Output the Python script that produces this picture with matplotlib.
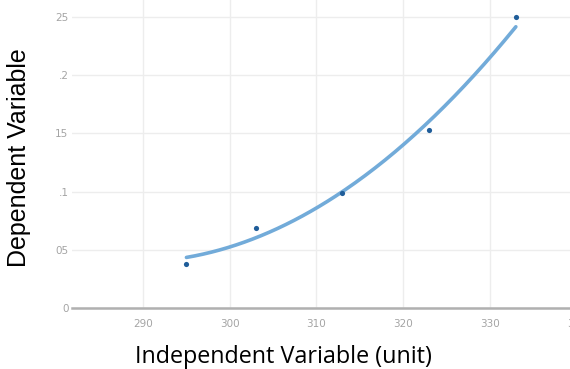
import numpy as np
import matplotlib
matplotlib.use("Agg")
import matplotlib.pyplot as plt

# Measured samples
x_vals = [295, 303, 313, 323, 333]
y_vals = [0.038, 0.069, 0.099, 0.153, 0.250]

# Trend line values at the sample positions
trend_vals = [0.0438, 0.0600, 0.0990, 0.1620, 0.2410]

x_ticks = [290, 300, 310, 320, 330, 340]
y_ticks = [0, 0.05, 0.10, 0.15, 0.20, 0.25]
y_tick_labels = ["0", "05", ".1", "15", ".2", "25"]

x_label = "Independent Variable (unit)"
y_label = "Dependent Variable"

W, H = 570, 369
fig = plt.figure(figsize=(W / 100, H / 100), dpi=100)
fig.patch.set_facecolor("white")

# axes extends slightly past the right edge of the canvas
ax = fig.add_axes([72 / W, (H - 308) / H, (580 - 72) / W, 308 / H])
ax.set_xlim(281.8, 340.4)
ax.set_ylim(0, 0.2646)

ax.set_xticks(x_ticks)
ax.set_yticks(y_ticks)
ax.set_yticklabels(y_tick_labels)
ax.tick_params(axis="both", length=0, labelsize=7.5, labelcolor="#a4a4a4")
ax.tick_params(axis="x", pad=8)
ax.tick_params(axis="y", pad=2.5)
ax.grid(True, color="#ededed", linewidth=1.0)
ax.set_axisbelow(True)
for side in ("top", "right", "left"):
    ax.spines[side].set_visible(False)
ax.spines["bottom"].set_color("#b0b0b0")
ax.spines["bottom"].set_linewidth(1.8)

# smooth quadratic trend through the trend values
coef = np.polyfit(x_vals, trend_vals, 2)
xs = np.linspace(min(x_vals), max(x_vals), 200)
ax.plot(xs, np.polyval(coef, xs), color="#72abd9", linewidth=2.6,
        solid_capstyle="round", zorder=2)
ax.scatter(x_vals, y_vals, s=14, color="#1f5d99", zorder=3, linewidths=0)

fig.text(283 / W, 1 - 357 / H, x_label, ha="center", va="center",
         fontsize=16.8, family="Open Sans", color="black")
fig.text(19 / W, 1 - 158 / H, y_label, ha="center", va="center",
         rotation=90, fontsize=18, family="Liberation Sans", color="black")

fig.savefig("out.png", dpi=100, facecolor="white")
